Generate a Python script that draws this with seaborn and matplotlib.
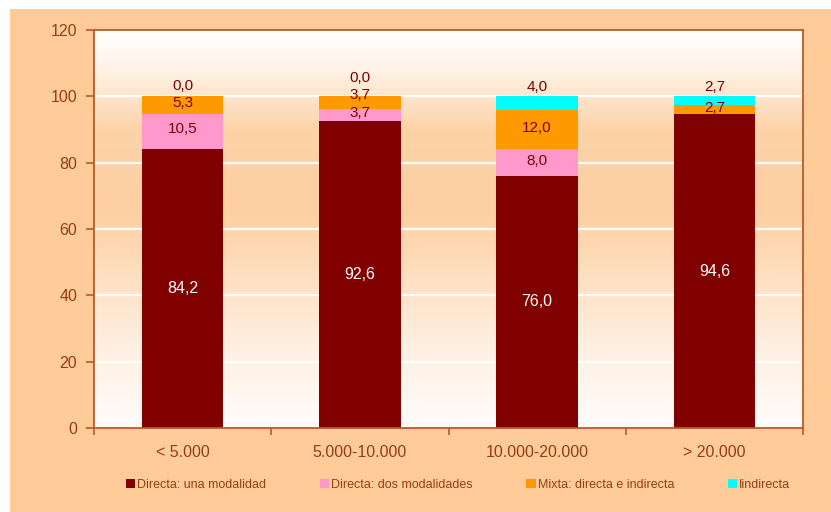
import numpy as np
import pandas as pd
import matplotlib
matplotlib.use("Agg")
import matplotlib.pyplot as plt
from matplotlib.colors import LinearSegmentedColormap
from matplotlib.patches import Patch, Rectangle
import seaborn as sns

# data
categories = ["< 5.000", "5.000-10.000", "10.000-20.000", "> 20.000"]
series_names = ["Directa: una modalidad", "Directa: dos modalidades",
                "Mixta: directa e indirecta", "Iindirecta"]
una_modalidad = [84.2, 92.6, 76.0, 94.6]
dos_modalidades = [10.5, 3.7, 8.0, 0.0]
mixta = [5.3, 3.7, 12.0, 2.7]
indirecta = [0.0, 0.0, 4.0, 2.7]
series_colors = ["#800000", "#FF99CC", "#FF9900", "#00FFFF"]
y_ticks = [0, 20, 40, 60, 80, 100, 120]

sns.set_style("white")
plt.rcParams["font.family"] = ["Liberation Sans", "DejaVu Sans"]

text_brown = "#9A3C12"
label_red = "#800000"
spine_col = "#B9592B"
panel_col = "#FFCC99"

df = pd.DataFrame({"cat": categories,
                   series_names[0]: una_modalidad,
                   series_names[1]: dos_modalidades,
                   series_names[2]: mixta,
                   series_names[3]: indirecta})
cum = df[series_names].cumsum(axis=1)

fig = plt.figure(figsize=(8.31, 5.12), dpi=100)
fig.patch.set_facecolor("white")
fig.patches.append(Rectangle((10 / 831, 0), 1, 1 - 9 / 512, transform=fig.transFigure,
                             facecolor=panel_col, edgecolor="none", zorder=-10))

ax = fig.add_axes([94 / 831, 1 - 428 / 512, (803 - 94) / 831, (428 - 30) / 512])

# plot area gradient: white top, peach middle, near white bottom
cmap = LinearSegmentedColormap.from_list(
    "bg", [(0.0, "#FFFCFA"), (0.2, "#FFF0E2"), (0.55, "#FDCFA2"),
           (0.75, "#FDD3A8"), (0.9, "#FFF2E6"), (1.0, "#FFFFFF")])
grad = np.linspace(0, 1, 256).reshape(-1, 1)
ax.imshow(grad, extent=[-0.5, 3.5, 0, 120], origin="lower", aspect="auto",
          cmap=cmap, zorder=0)

# stacked bars: draw cumulative totals from the top series down
for i in range(len(series_names) - 1, -1, -1):
    sns.barplot(x=df["cat"], y=cum[series_names[i]], color=series_colors[i],
                width=0.46, saturation=1, ax=ax, zorder=2,
                edgecolor="none", linewidth=0)

ax.set_xlim(-0.5, 3.5)
ax.set_ylim(0, 120)
ax.set_yticks(y_ticks)
ax.set_xlabel("")
ax.set_ylabel("")
ax.grid(axis="y", color="white", linewidth=1.6)
ax.set_axisbelow(True)

for s in ax.spines.values():
    s.set_color(spine_col)
    s.set_linewidth(1.3)
    s.set_visible(True)

ax.tick_params(axis="y", length=6, width=1.2, color=spine_col, labelcolor=text_brown,
               labelsize=11.5, pad=6, direction="out", left=True)
ax.set_xticks(range(len(categories)))
ax.set_xticklabels(categories)
ax.set_xticks(np.arange(-0.5, len(categories), 1.0), minor=True)
ax.tick_params(axis="x", which="major", length=0, labelcolor=text_brown,
               labelsize=11.5, pad=12)
ax.tick_params(axis="x", which="minor", length=5, width=1.2, color=spine_col,
               bottom=True, direction="out")

# value labels (segment centres, nudged up so small segments don't collide)
min_gap = 5.3
for j in range(len(categories)):
    base = 0.0
    last_y = -10.0
    for i, name in enumerate(series_names):
        v = df[name].iloc[j]
        txt = f"{v:.1f}".replace(".", ",")
        if i == 0:
            ax.text(j, base + v / 2, txt, ha="center", va="center", color="white",
                    fontsize=11.5, zorder=5)
        elif i == len(series_names) - 1:
            y = max(base + v + 2.8, last_y + min_gap)
            ax.text(j, y, txt, ha="center", va="center", color=label_red,
                    fontsize=11, zorder=5)
        elif v > 0:
            y = max(base + v / 2 + 0.6, last_y + min_gap)
            ax.text(j, y, txt, ha="center", va="center", color=label_red,
                    fontsize=11, zorder=5)
            last_y = y
        base += v

handles = [Patch(facecolor=c, edgecolor="none") for c in series_colors]
fig.legend(handles, series_names, loc="center", bbox_to_anchor=(458 / 831, 1 - 485 / 512),
           ncol=4, frameon=False, fontsize=9, labelcolor=text_brown,
           handlelength=0.75, handleheight=0.75, handletextpad=0.15, columnspacing=4.3)

fig.savefig("out.png", dpi=100, facecolor=fig.get_facecolor())
